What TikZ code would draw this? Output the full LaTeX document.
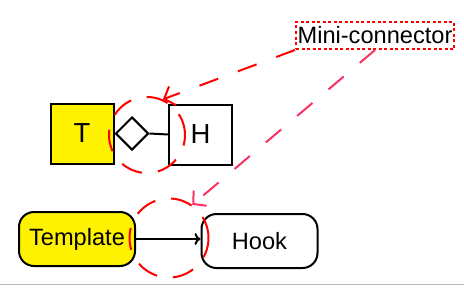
\documentclass[tikz,border=0pt]{standalone}
\usepackage{fontspec}
\setmainfont{Liberation Sans}
\usetikzlibrary{shapes.geometric,arrows.meta}
\definecolor{linkpink}{RGB}{250,50,100}
\begin{document}
\begin{tikzpicture}[x=1pt,y=-1pt,
  every node/.style={font=\fontsize{23.6}{28}\selectfont, inner sep=0pt},
  box/.style={draw=black, line width=2pt, minimum width=63pt, minimum height=60pt, font=\fontsize{27.5}{32}\selectfont},
  roundbox/.style={draw=black, line width=2pt, rounded corners=15pt, minimum width=116pt, minimum height=54pt},
  ring/.style={circle, draw=red, line width=2pt, dash pattern=on 22pt off 16pt},
  link/.style={line width=2pt, dash pattern=on 20pt off 21pt, -{Straight Barb[length=9pt,width=20pt,line width=2pt]}},
  tag/.style={draw=red, line width=2pt, dash pattern=on 3pt off 2.5pt, minimum width=158pt, minimum height=27pt}
]
\useasboundingbox (0,0) rectangle (464,289);

% bottom rule
\draw[gray!55, line width=1pt] (0,284) -- (464,284);

% compact form: T with a diamond port to H
\node[box, fill=yellow] (T) at (82,133.5) {T};
\node[draw=black, line width=2pt, diamond, minimum width=33pt, minimum height=33pt, anchor=west] (knob) at (T.east) {};
\node[box, fill=white] (H) at (200.5,134.5) {H};
\draw[line width=2pt] (knob.east) -- (H.west);

% expanded form: Template -> Hook
\node[roundbox, fill=yellow] (tpl) at (77,239) {Template};
\node[roundbox, fill=white] (hook) at (259.5,241) {Hook};
\draw[line width=2pt, -{To[length=6pt,width=12pt]}] (tpl.east |- 0,239) -- (hook.west |- 0,239);

% highlight rings
\node[ring, minimum size=76pt] (ringA) at (147,135) {};
\node[ring, minimum size=79pt] (ringB) at (169,238) {};

% label and its pointers
\node[tag] (mini) at (375,35.5) {Mini-connector};
\draw[link, red] (mini.south west) -- (ringA.66);
\draw[link, linkpink] (mini.south) -- (ringB.55);
\end{tikzpicture}
\end{document}
